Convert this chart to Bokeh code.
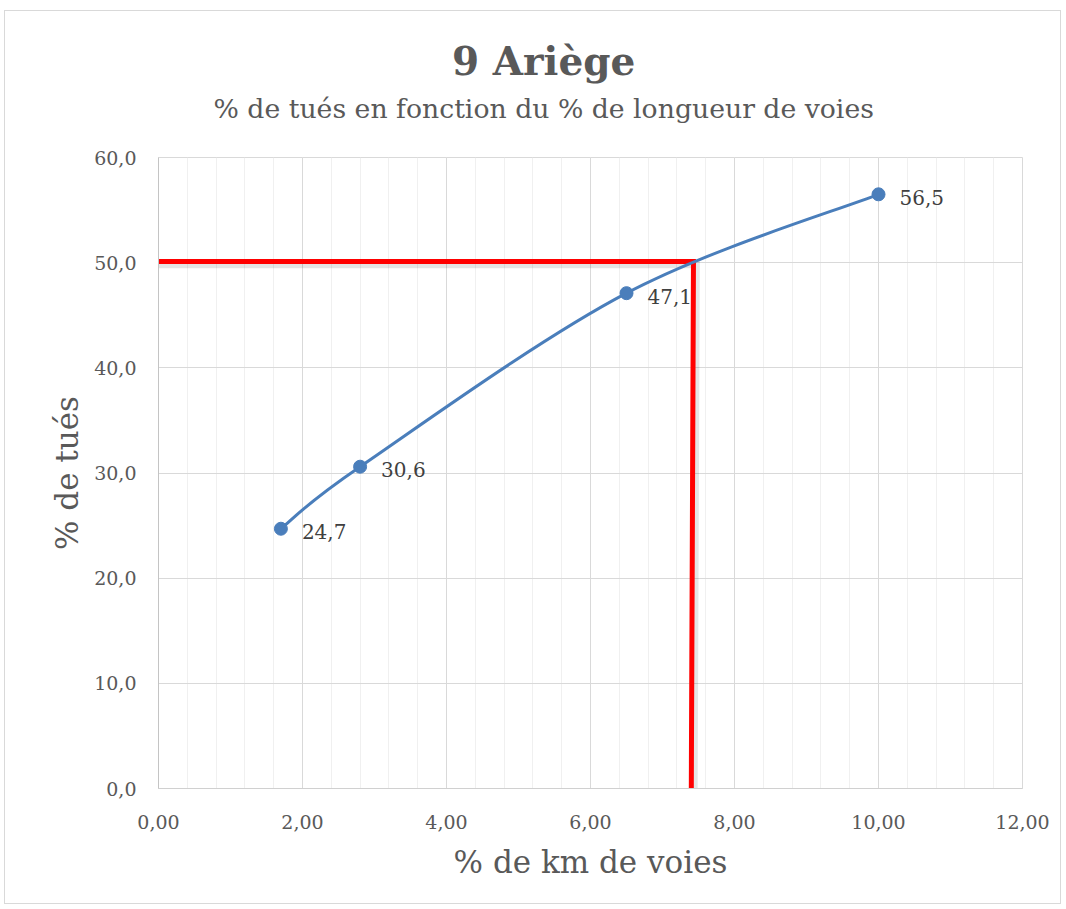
import json
from bokeh.plotting import figure
from bokeh.models import (Range1d, SingleIntervalTicker, FixedTicker, CustomJSTickFormatter,
                          LinearAxis, ColumnDataSource)
from bokeh.core.properties import value
from bokeh.embed import file_html
from bokeh.resources import INLINE

# ---- data ----
km_voies = [1.7, 2.8, 6.5, 10.0]          # % de km de voies
tues = [24.7, 30.6, 47.1, 56.5]           # % de tués
point_labels = ["24,7", "30,6", "47,1", "56,5"]

target_x_top = 7.43   # red guide: top corner
target_x_bottom = 7.40
target_y = 50.1

title_text = "9 Ariège"
subtitle_text = "% de tués en fonction du % de longueur de voies"
x_title = "% de km de voies"
y_title = "% de tués"

FONT = "DejaVu Serif"
GREY = "#595959"
title_anchor_x = 5.35   # horizontal centre of the title block, in x-axis units

p = figure(width=1057, height=894, output_backend="svg", toolbar_location=None,
           x_range=Range1d(0, 12), y_range=Range1d(0, 60), title=None,
           min_border_left=153, min_border_right=40, min_border_top=146, min_border_bottom=117)
p.styles = {"border": "1px solid #d9d9d9", "margin-left": "4px", "margin-top": "10px"}
p.background_fill_color = "white"
p.border_fill_color = "white"
p.outline_line_color = "#d9d9d9"

# axes
p.xaxis.ticker = SingleIntervalTicker(interval=2, num_minor_ticks=5)
p.yaxis.ticker = SingleIntervalTicker(interval=10, num_minor_ticks=0)
p.xaxis.formatter = CustomJSTickFormatter(code="return tick.toFixed(2).replace('.', ',');")
p.yaxis.formatter = CustomJSTickFormatter(code="return tick.toFixed(1).replace('.', ',');")
for ax in (p.xaxis, p.yaxis):
    ax.major_tick_line_color = None
    ax.minor_tick_line_color = None
    ax.major_label_text_font = FONT
    ax.major_label_text_font_size = "19px"
    ax.major_label_text_color = GREY
    ax.axis_label_text_font = FONT
    ax.axis_label_text_font_size = "31px"
    ax.axis_label_text_color = GREY
    ax.axis_label_text_font_style = "normal"
p.xaxis.axis_line_color = "#d0d0d0"
p.yaxis.axis_line_color = "#c4c4c4"
p.xaxis.axis_label = x_title
p.yaxis.axis_label = y_title
p.xaxis.major_label_standoff = 20
p.yaxis.major_label_standoff = 16
p.xaxis.axis_label_standoff = 12
p.yaxis.axis_label_standoff = 6

p.xgrid.grid_line_color = "#d9d9d9"
p.xgrid.minor_grid_line_color = "#f0f0f0"
p.ygrid.grid_line_color = "#d9d9d9"
p.ygrid.minor_grid_line_color = None


def title_axis(text, size, style, standoff):
    a = LinearAxis(ticker=FixedTicker(ticks=[title_anchor_x]),
                   formatter=CustomJSTickFormatter(code="return %s;" % json.dumps(text)),
                   axis_line_color=None, major_tick_line_color=None, minor_tick_line_color=None,
                   major_label_standoff=standoff, major_label_text_font=FONT,
                   major_label_text_font_size=size, major_label_text_font_style=style,
                   major_label_text_color=GREY)
    return a


p.add_layout(title_axis(subtitle_text, "26.7px", "normal", 28), "above")
p.add_layout(title_axis(title_text, "39px", "bold", 0), "above")

# smoothed line (Catmull-Rom style Bezier segments through data points)
n = len(km_voies)
x0, y0, x1, y1, cx0, cy0, cx1, cy1 = [], [], [], [], [], [], [], []
for i in range(n - 1):
    pm = max(i - 1, 0)
    pp = min(i + 2, n - 1)
    x0.append(km_voies[i]); y0.append(tues[i])
    x1.append(km_voies[i + 1]); y1.append(tues[i + 1])
    cx0.append(km_voies[i] + (km_voies[i + 1] - km_voies[pm]) / 6)
    cy0.append(tues[i] + (tues[i + 1] - tues[pm]) / 6)
    cx1.append(km_voies[i + 1] - (km_voies[pp] - km_voies[i]) / 6)
    cy1.append(tues[i + 1] - (tues[pp] - tues[i]) / 6)

src = ColumnDataSource(dict(x=km_voies, y=tues, lab=point_labels))
p.text("x", "y", text="lab", source=src, x_offset=21, y_offset=3,
       text_font=value(FONT), text_font_size="20px", text_color="#404040",
       text_align="left", text_baseline="middle")

# red guide lines (with a soft shadow)
shadow_dx, shadow_dy = 0.04, -0.3
p.line([0, target_x_top + shadow_dx, target_x_bottom + shadow_dx],
       [target_y + shadow_dy, target_y + shadow_dy, 0],
       line_color="#000000", line_alpha=0.10, line_width=7, line_join="miter")
p.line([0, target_x_top, target_x_bottom], [target_y, target_y, 0],
       line_color="#ff0000", line_width=5, line_join="miter")

p.bezier(x0=x0, y0=y0, x1=x1, y1=y1, cx0=cx0, cy0=cy0, cx1=cx1, cy1=cy1,
         line_color="#4a7ebb", line_width=3)
p.scatter("x", "y", source=src, size=13, fill_color="#4a7ebb", line_color="#4a7ebb")

open("out.html", "w").write(file_html(p, INLINE))
